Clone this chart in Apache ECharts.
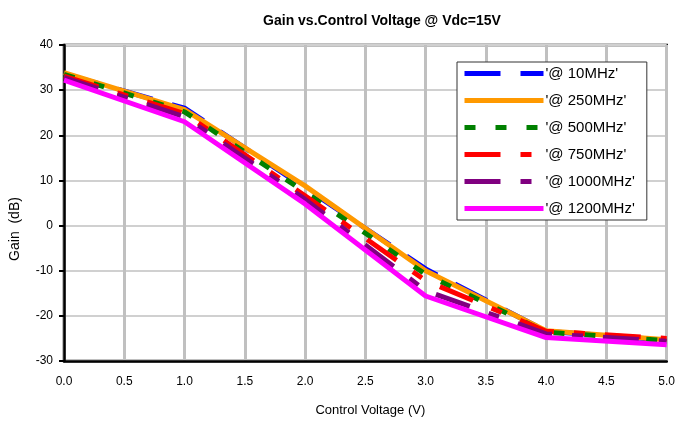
<!DOCTYPE html>
<html>
<head>
    <meta charset="utf-8">
    <title>Gain vs Control Voltage</title>
    <script src="https://cdn.jsdelivr.net/npm/echarts@6.0.0/dist/echarts.min.js"></script>
    <style>
      body { padding: 0; margin: 0; background: #fff; }
      #main { width: 678px; height: 422px; }
    </style>
</head>
<body>
  <div id="main"></div>
  <script type="text/javascript">
    var voltage = [0, 1, 2, 3, 4, 5]
    var names = ["'@ 10MHz'", "'@ 250MHz'", "'@ 500MHz'", "'@ 750MHz'", "'@ 1000MHz'", "'@ 1200MHz'"]
    var gain10 = [33.6, 26.0, 8.4, -9.6, -23.4, -25.4]
    var gain250 = [33.9, 25.7, 8.8, -10.0, -23.3, -25.3]
    var gain500 = [33.5, 25.2, 7.4, -10.8, -23.6, -25.5]
    var gain750 = [33.1, 24.8, 6.6, -12.2, -23.4, -25.0]
    var gain1000 = [32.8, 24.1, 5.8, -14.4, -24.0, -25.6]
    var gain1200 = [32.2, 23.0, 4.8, -15.6, -24.8, -26.4]

    var colors = ['#0000ff', '#ff9900', '#008000', '#ff0000', '#800080', '#ff00ff']
    var dashes = [[36, 20], 'solid', [11, 20], [36, 20, 11, 20], [36, 20, 11, 20], 'solid']
    var allGain = [gain10, gain250, gain500, gain750, gain1000, gain1200]

    var font = 'Liberation Sans, Arial, sans-serif'
    var series = allGain.map(function (g, i) {
      return {
        name: names[i],
        type: 'line',
        symbol: 'none',
        animation: false,
        data: voltage.map(function (v, j) { return [v, g[j]] }),
        lineStyle: { color: colors[i], width: 5, type: dashes[i], cap: 'butt' },
        itemStyle: { color: colors[i] }
      }
    })

    var myChart = echarts.init(document.getElementById('main'))
    myChart.setOption({
      backgroundColor: '#fff',
      title: {
        text: 'Gain vs.Control Voltage @ Vdc=15V',
        left: 377, top: 9, textAlign: 'center',
        textStyle: { fontFamily: font, fontSize: 14, fontWeight: 'bold', color: '#000' }
      },
      grid: {
        left: 62, right: 8, top: 45, bottom: 60,
        show: true, borderColor: '#000', borderWidth: 2.5, backgroundColor: '#fff'
      },
      legend: {
        orient: 'vertical',
        left: 457, top: 62,
        padding: [4, 12, 4, 5],
        itemWidth: 79, itemHeight: 14, itemGap: 12,
        backgroundColor: '#fff', borderColor: '#333', borderWidth: 1,
        itemStyle: { opacity: 0 },
        lineStyle: { width: 5 },
        textStyle: { fontFamily: font, fontSize: 15, color: '#000', padding: [0, 0, 0, -3] },
        data: names
      },
      xAxis: {
        type: 'value', min: 0, max: 5, interval: 0.5,
        name: 'Control Voltage (V)', nameLocation: 'middle', nameGap: 43,
        nameTextStyle: { fontFamily: font, fontSize: 13, color: '#000', padding: [0, 0, 0, 10] },
        axisLine: { onZero: false, lineStyle: { color: '#000', width: 2.5 } },
        axisTick: { show: false },
        axisLabel: {
          fontFamily: font, fontSize: 12, color: '#000', margin: 15,
          formatter: function (v) { return v.toFixed(1) }
        },
        splitLine: { lineStyle: { color: '#c0c0c0', width: 3 } }
      },
      yAxis: {
        type: 'value', min: -30, max: 40, interval: 10,
        name: 'Gain  (dB)', nameLocation: 'middle', nameGap: 42,
        nameTextStyle: { fontFamily: font, fontSize: 14, color: '#000', padding: [0, 52, 0, 0] },
        axisLine: { lineStyle: { color: '#000', width: 2.5 } },
        axisTick: { show: true, length: 5, lineStyle: { color: '#000', width: 2 } },
        axisLabel: { fontFamily: font, fontSize: 12, color: '#000', margin: 11 },
        splitLine: { lineStyle: { color: '#d0d0d0', width: 2 } }
      },
      series: series
    })
  </script>
</body>
</html>
